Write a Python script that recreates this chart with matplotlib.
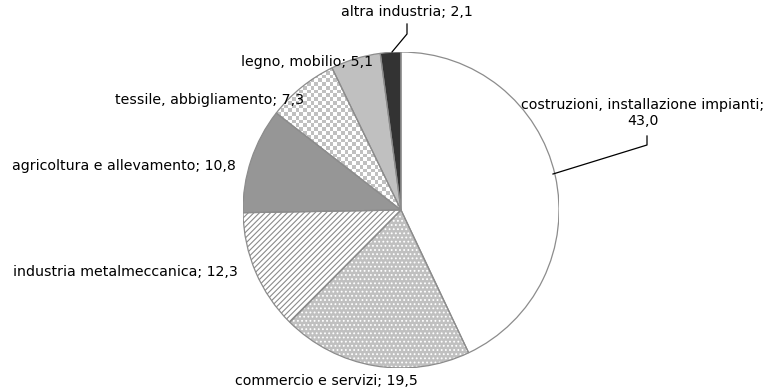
import numpy as np
import matplotlib
matplotlib.use("Agg")
import matplotlib.pyplot as plt

# Ripartizione per settore (%)
sectors = [
    "costruzioni, installazione impianti",
    "commercio e servizi",
    "industria metalmeccanica",
    "agricoltura e allevamento",
    "tessile, abbigliamento",
    "legno, mobilio",
    "altra industria",
]
shares = [43.0, 19.5, 12.3, 10.8, 7.3, 5.1, 2.1]

face_colors = ["#ffffff", "#c0c0c0", "#ffffff", "#969696", "#ffffff", "#c0c0c0", "#333333"]
hatch_styles = [None, "....", "//////", None, None, None, None]
hatch_colors = [None, "#ffffff", "#8a8a8a", None, None, None, None]

W, H = 768, 389
cx, cy, r = 401, 210, 158

fig = plt.figure(figsize=(W / 100, H / 100), dpi=100)
ax = fig.add_axes([(cx - r) / W, (H - cy - r) / H, 2 * r / W, 2 * r / H])

wedges, _ = ax.pie(shares, startangle=90, counterclock=False, radius=1,
                   colors=face_colors,
                   wedgeprops=dict(linewidth=0))
ax.axis("off")

# pattern overlays (hatch drawn in its own colour)
plt.rcParams["hatch.linewidth"] = 0.8
for w, hs, hc in zip(wedges, hatch_styles, hatch_colors):
    if hs is None:
        continue
    ov = matplotlib.patches.Wedge(w.center, w.r, w.theta1, w.theta2,
                                  facecolor="none", edgecolor=hc,
                                  hatch=hs, linewidth=0)
    ax.add_patch(ov)

# checkerboard texture for the textile slice
n = 84
ii, jj = np.meshgrid(np.arange(n), np.arange(n))
checker = ((ii + jj) % 2).astype(float)
img = ax.imshow(checker, cmap=matplotlib.colors.ListedColormap(["#ffffff", "#c0c0c0"]),
                extent=(-1, 1, -1, 1), interpolation="nearest", zorder=1.5)
img.set_clip_path(wedges[4])
ax.set_xlim(-1, 1)
ax.set_ylim(-1, 1)

# slice outlines
for w in wedges:
    ax.add_patch(matplotlib.patches.Wedge(w.center, w.r, w.theta1, w.theta2,
                                          facecolor="none", edgecolor="#8c8c8c",
                                          linewidth=0.9, zorder=3))

def px(x, y):
    return (x - cx) / r, (cy - y) / r

fs = 10.2
txt = dict(fontsize=fs, color="#000000", family="DejaVu Sans", va="center")
labels = [f"{s}; {v:.1f}".replace(".", ",") for s, v in zip(sectors, shares)]

ax.text(*px(643, 113), labels[0].replace("; ", ";\n"), ha="center",
        linespacing=1.15, clip_on=False, **txt)
ax.text(*px(326, 381), labels[1], ha="center", clip_on=False, **txt)
ax.text(*px(238, 272), labels[2], ha="right", clip_on=False, **txt)
ax.text(*px(236, 166), labels[3], ha="right", clip_on=False, **txt)
ax.text(*px(304, 100), labels[4], ha="right", clip_on=False, **txt)
ax.text(*px(373, 62), labels[5], ha="right", clip_on=False, **txt)
ax.text(*px(407, 12), labels[6], ha="center", clip_on=False, **txt)

# leader lines
for pts in ([(647, 136), (647, 145), (553, 174)],
            [(407, 24), (407, 34), (392, 52)]):
    xs, ys = zip(*[px(*p) for p in pts])
    ax.plot(xs, ys, color="#000000", linewidth=0.9, clip_on=False, zorder=4)

fig.savefig("out.png", dpi=100, facecolor="white")
